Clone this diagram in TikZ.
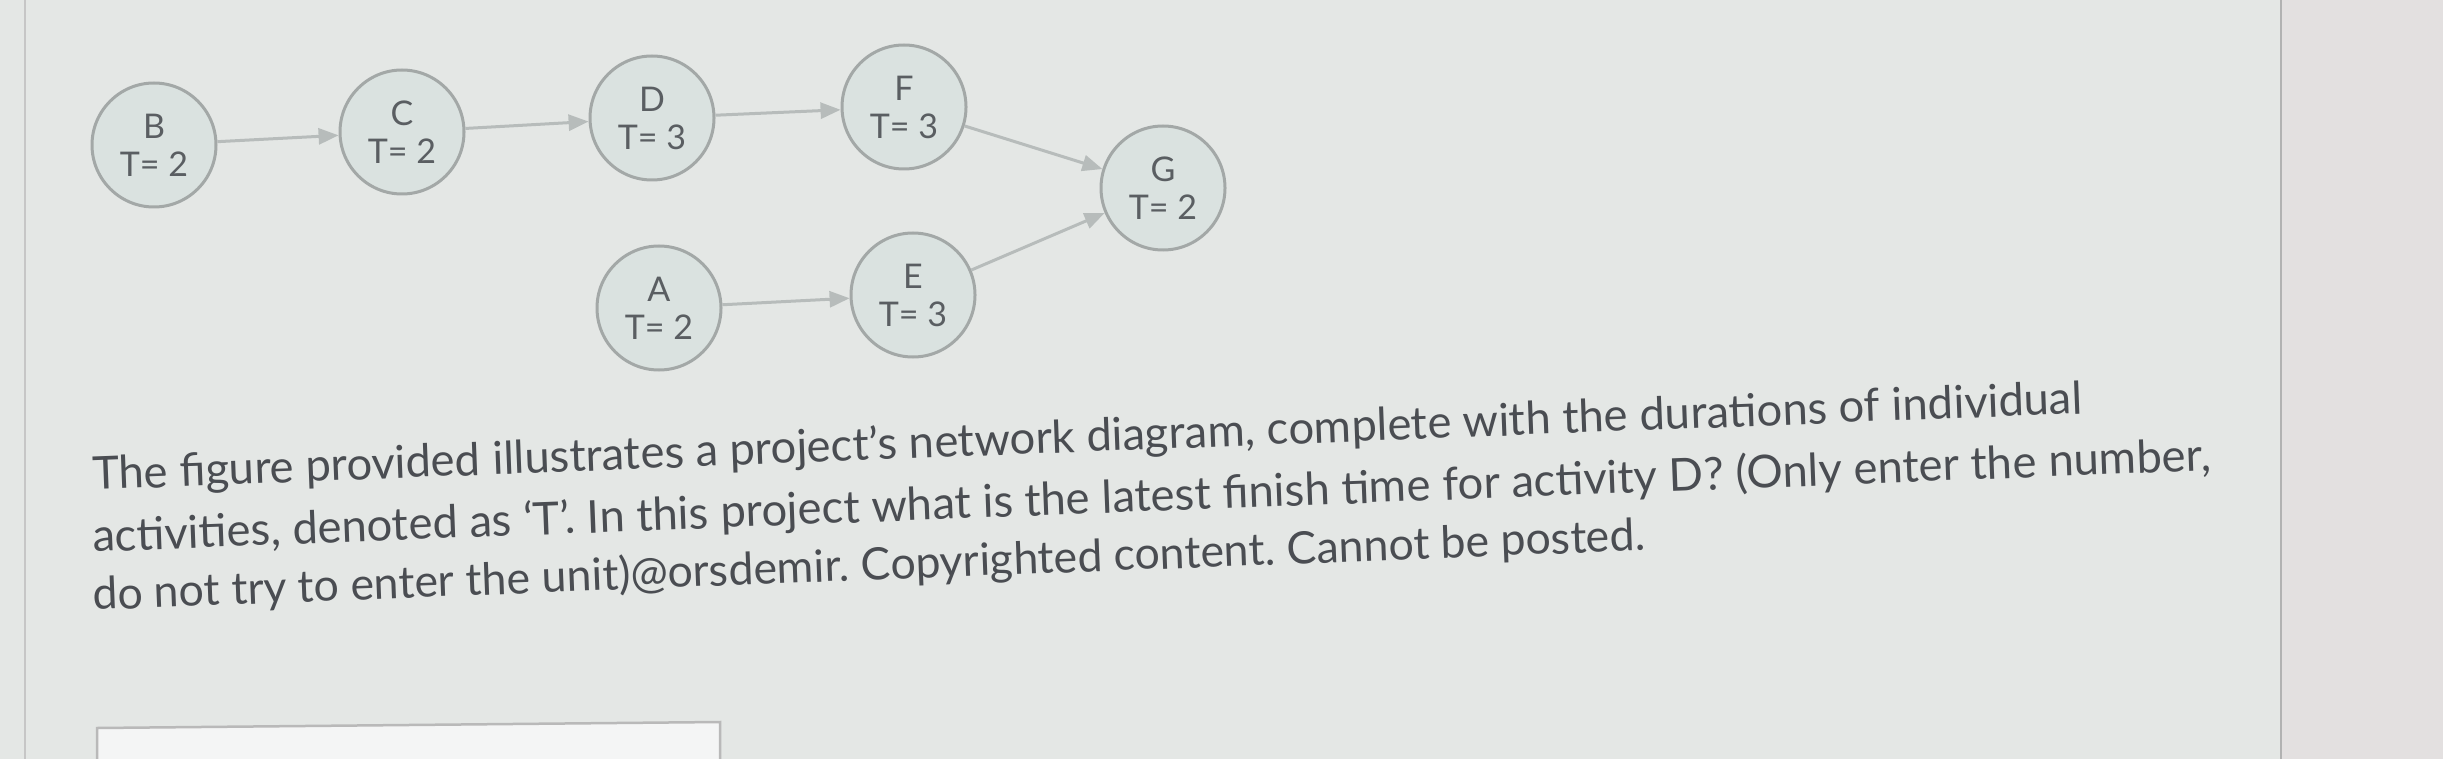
\documentclass[tikz,border=0pt]{standalone}
\usepackage{fontspec}
\setmainfont{Lato}
\usetikzlibrary{arrows.meta}
\definecolor{bgc}{HTML}{E4E7E5}
\definecolor{bgr}{HTML}{E3E0E0}
\definecolor{nodefill}{HTML}{DAE2E0}
\definecolor{nodeline}{HTML}{A3A8A7}
\definecolor{arrowc}{HTML}{B7BCBB}
\definecolor{txt}{HTML}{4A4D52}
\definecolor{ntxt}{HTML}{5A5E62}
\newlength\natwA
\newlength\natwB
\newlength\natwC
\AtBeginDocument{%
\settowidth\natwA{\fontsize{40}{48}\selectfont The figure provided illustrates a project’s network diagram, complete with the durations of individual}%
\settowidth\natwB{\fontsize{40}{48}\selectfont activities, denoted as ‘T’. In this project what is the latest finish time for activity D? (Only enter the number,}%
\settowidth\natwC{\fontsize{40}{48}\selectfont do not try to enter the unit)@orsdemir. Copyrighted content. Cannot be posted.}%
\pgfmathsetmacro\fsA{40/\the\natwA*1989}%
\pgfmathsetmacro\fsB{40/\the\natwB*2118}%
\pgfmathsetmacro\fsC{40/\the\natwC*1560}%
}
\newcommand\lfA{\fontsize{\fsA}{\fsA}\selectfont}
\newcommand\lfB{\fontsize{\fsB}{\fsB}\selectfont}
\newcommand\lfC{\fontsize{\fsC}{\fsC}\selectfont}
\tikzset{
  act/.style={circle, draw=nodeline, line width=3pt, fill=nodefill, minimum size=124pt,
    inner sep=0pt, align=center, text=ntxt, font=\fontsize{34}{38}\selectfont},
  conn/.style={draw=arrowc, line width=3pt, -{Triangle[length=20pt,width=16pt]}},
  qline/.style={anchor=base west, inner sep=0pt, text=txt, rotate=2.2}
}
\begin{document}
\begin{tikzpicture}[x=1pt,y=-1pt]
\useasboundingbox (0,0) rectangle (2443,759);
\fill[bgc] (0,0) rectangle (2281,759);
\fill[bgr] (2281,0) rectangle (2443,759);
\draw[line width=2pt, color=gray!60] (2281,0) -- (2281,759);
\draw[line width=2pt, color=gray!45] (25,0) -- (25,759);
% nodes
\node[act] (B) at (154,145) {B\\T= 2};
\node[act] (C) at (402,132) {C\\T= 2};
\node[act] (D) at (652,118) {D\\T= 3};
\node[act] (F) at (904,107) {F\\T= 3};
\node[act] (G) at (1163,188) {G\\T= 2};
\node[act] (A) at (659,308) {A\\T= 2};
\node[act] (E) at (913,295) {E\\T= 3};
% connectors
\draw[conn] (B) -- (C);
\draw[conn] (C) -- (D);
\draw[conn] (D) -- (F);
\draw[conn] (F) -- (G);
\draw[conn] (A) -- (E);
\draw[conn] (E) -- (G);
% question text, line 1
\node[qline, font=\lfA] (L1a) at (93,490) {The figure provided};
\node[qline, font=\lfA] (L1b) at (L1a.base east) {\ illustrates a project’s};
\node[qline, font=\lfA] (L1c) at (L1b.base east) {\ network diagram,};
\node[qline, font=\lfA] (L1d) at (L1c.base east) {\ complete with the};
\node[qline, font=\lfA] (L1e) at (L1d.base east) {\ durations of};
\node[qline, font=\lfA] (L1f) at (L1e.base east) {\ individual};
% line 2
\node[qline, font=\lfB] (L2a) at (93,552) {activities, denoted};
\node[qline, font=\lfB] (L2b) at (L2a.base east) {\ as ‘T’. In this};
\node[qline, font=\lfB] (L2c) at (L2b.base east) {\ project what is the};
\node[qline, font=\lfB] (L2d) at (L2c.base east) {\ latest finish time};
\node[qline, font=\lfB] (L2e) at (L2d.base east) {\ for activity D?};
\node[qline, font=\lfB] (L2f) at (L2e.base east) {\ (Only enter the};
\node[qline, font=\lfB] (L2g) at (L2f.base east) {\ number,};
% line 3
\node[qline, font=\lfC] (L3a) at (93,610) {do not try to enter};
\node[qline, font=\lfC] (L3b) at (L3a.base east) {\ the unit)@orsdemir.};
\node[qline, font=\lfC] (L3c) at (L3b.base east) {\ Copyrighted content.};
\node[qline, font=\lfC] (L3d) at (L3c.base east) {\ Cannot be posted.};
% answer box
\draw[line width=2.5pt, draw=gray!55, fill=white!60!bgc] (97,728) -- (720,722) -- (720,790) -- (97,790) -- cycle;
\end{tikzpicture}
\end{document}
